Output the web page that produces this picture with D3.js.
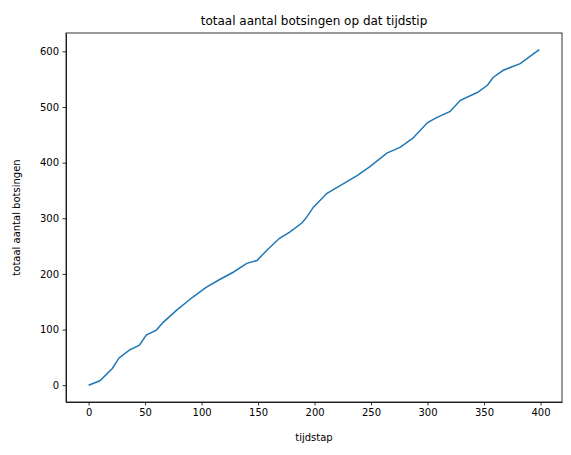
<!DOCTYPE html>
<html>
<head>
<meta charset="utf-8">
<script src="https://d3js.org/d3.v7.min.js"></script>
<style>
  body { margin: 0; background: #fff; }
  text { font-family: "DejaVu Sans", sans-serif; }
  .tick text { font-size: 10px; fill: #000; }
  .domain, .tick line { stroke: #000; stroke-width: 0.8px; }
</style>
</head>
<body>
<svg id="chart" width="571" height="455"></svg>
<script>
// cumulative collisions
const tijdstap = [0, 10, 21, 27, 36, 45, 51, 60, 66, 78, 92, 104, 116, 128, 140, 149, 158, 169, 178, 189, 193,
  199, 211, 223, 238, 249, 264, 276, 287, 300, 308, 320, 329, 344, 353, 358, 367, 382, 394, 399];
const botsingen = [0, 8, 30, 49, 63, 72, 90, 99, 113, 135, 158, 176, 190, 203, 219, 224, 243, 264, 275, 292, 302,
  320, 345, 359, 377, 393, 417, 428, 444, 472, 481, 492, 512, 526, 539, 553, 566, 578, 596, 603];
const xTicks = [0, 50, 100, 150, 200, 250, 300, 350, 400];
const yTicks = [0, 100, 200, 300, 400, 500, 600];

const mLeft = 66, mRight = 562, mTop = 33, mBottom = 402;
const svg = d3.select("#chart");

const x = d3.scaleLinear().domain([-20, 419]).range([mLeft, mRight]);
const y = d3.scaleLinear().domain([-30.2, 633]).range([mBottom, mTop]);

svg.append("g")
  .attr("transform", `translate(0,${mBottom})`)
  .call(d3.axisBottom(x).tickValues(xTicks).tickSize(3.5).tickPadding(3.5).tickSizeOuter(0));
svg.append("g")
  .attr("transform", `translate(${mLeft},0)`)
  .call(d3.axisLeft(y).tickValues(yTicks).tickSize(3.5).tickPadding(3.5).tickSizeOuter(0));

// frame
svg.append("rect")
  .attr("x", mLeft).attr("y", mTop)
  .attr("width", mRight - mLeft).attr("height", mBottom - mTop)
  .attr("fill", "none").attr("stroke", "#000").attr("stroke-width", 0.8);

const line = d3.line().x((d, i) => x(tijdstap[i])).y(d => y(d));
svg.append("path")
  .datum(botsingen)
  .attr("d", line)
  .attr("fill", "none")
  .attr("stroke", "#1f77b4")
  .attr("stroke-width", 1.5);

svg.append("text")
  .attr("x", (mLeft + mRight) / 2).attr("y", mTop - 8)
  .attr("text-anchor", "middle").attr("font-size", 12).text("totaal aantal botsingen op dat tijdstip");
svg.append("text")
  .attr("x", (mLeft + mRight) / 2).attr("y", 441)
  .attr("text-anchor", "middle").attr("font-size", 10).text("tijdstap");
svg.append("text")
  .attr("transform", `translate(20,${(mTop + mBottom) / 2}) rotate(-90)`)
  .attr("text-anchor", "middle").attr("font-size", 10).text("totaal aantal botsingen");
</script>
</body>
</html>
